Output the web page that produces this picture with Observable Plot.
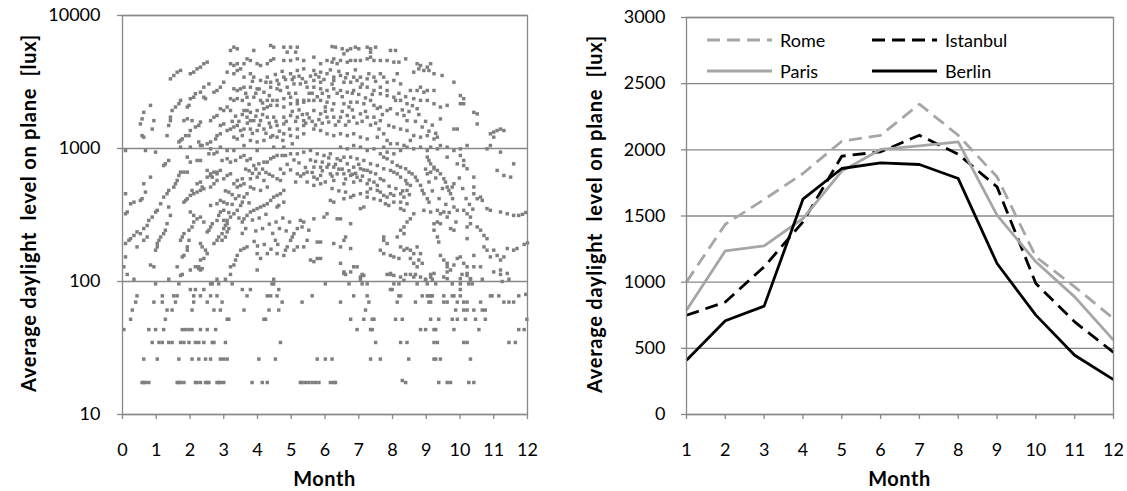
<!DOCTYPE html>
<html>
<head>
<meta charset="utf-8">
<script src="https://cdn.jsdelivr.net/npm/d3@7"></script>
<script src="https://cdn.jsdelivr.net/npm/@observablehq/plot@0.6"></script>
<style>
  body { margin: 0; background: #fff; }
  #wrap { position: relative; width: 1127px; height: 491px; overflow: hidden; font-family: Lato, "Open Sans", sans-serif; color: #000; }
  .panel { position: absolute; top: 0; }
  .ytitle { position: absolute; font-weight: bold; font-size: 20px; letter-spacing: 0.75px; white-space: pre; transform: translate(-50%, -50%) rotate(-90deg); line-height: 1; }
  .xtitle { position: absolute; font-weight: bold; font-size: 20px; letter-spacing: 0.5px; transform: translate(-50%, -50%); line-height: 1; }
  .leg { position: absolute; display: flex; align-items: center; font-size: 18px; line-height: 1; transform: translateY(-50%); }
  .leg svg { display: block; margin-right: 8px; }
</style>
</head>
<body>
<div id="wrap">
  <div id="leftPanel" class="panel" style="left:0px;"></div>
  <div id="rightPanel" class="panel" style="left:560px;"></div>
</div>
<script>
// ---------- Data ----------
const luxTicks = [10, 100, 1000, 10000];
const monthTicksLeft = [0,1,2,3,4,5,6,7,8,9,10,11,12];
const months = [1,2,3,4,5,6,7,8,9,10,11,12];
const levelTicks = [0,500,1000,1500,2000,2500,3000];

const cities = ["Rome", "Istanbul", "Paris", "Berlin"];
const rome     = [1002,1438,1625,1821,2065,2110,2345,2110,1796,1191,965,725];
const istanbul = [750,850,1116,1456,1952,1985,2110,1967,1720,990,700,469];
const paris    = [788,1237,1275,1481,1839,2003,2030,2060,1506,1154,889,562];
const berlin   = [410,708,819,1627,1859,1902,1889,1783,1141,751,448,264];

// hourly daylight readings on plane: [month, lux]
const dailyReadings = [
[3.30,5780],[3.40,5620],[3.89,5460],[4.39,5950],[4.48,5780],[4.78,5780],[4.98,5780],[5.18,5780],[5.13,5300],[4.88,5300],[3.20,5460],
[3.20,4340],[3.30,4210],[3.40,4340],[3.50,3970],[3.60,4340],[3.69,4720],[3.79,4590],[3.99,4340],[4.09,4210],[4.29,4340],[4.39,4590],[4.48,4720],[4.78,4590],[4.98,4590],[5.18,4720],[5.37,4590],
[2.51,4460],[2.41,4340],[2.31,4090],[2.21,3970],[2.11,3750],[2.01,3650],[1.72,3860],[1.62,3750],[1.52,3540],[1.42,3340],
[3.10,3750],[3.30,3650],[3.40,3860],[3.60,3440],[3.79,3650],[3.89,3440],[4.09,3250],[4.29,3440],[4.39,3150],[4.58,3250],[4.78,3440],[4.98,3650],[5.08,3440],[5.18,3860],[5.37,3970],
[2.56,3060],[2.41,2890],[2.31,2650],[2.16,2580],[2.11,2430],[2.01,2370],[3.00,3150],[2.90,2890],[2.80,2730],[2.71,2650],
[3.30,2810],[3.40,2730],[3.50,2810],[3.60,2890],[3.79,2890],[3.99,2810],[4.19,2650],[4.39,2890],[4.58,2810],[4.68,2730],[4.88,2890],[5.08,3060],[5.27,3060],[5.47,2890],
[3.20,2370],[3.30,2300],[3.40,2370],[3.55,2300],[3.69,2430],[3.89,2430],[4.09,2300],[4.29,2300],[4.58,2300],[4.78,2370],[4.98,2430],[5.18,2300],[5.37,2300],
[1.72,2300],[1.67,2170],[1.57,2050],[1.47,1930],[1.42,1720],[1.97,2110],[1.92,2050],[2.41,2430],[2.46,2370],
[0.83,2110],[0.63,1870],[0.58,1670],[0.53,1530],[0.88,1400],[0.93,1620],[0.63,1217],[0.58,1250],
[3.10,2050],[3.20,1930],[3.00,1930],[2.90,1990],[2.80,1770],[2.71,1720],[2.61,1620],
[3.60,1930],[3.69,1930],[3.79,1870],[3.99,1930],[4.19,1990],[4.29,2050],[4.39,2110],[4.58,2110],[4.78,2050],[4.98,2170],[5.18,2170],[5.37,2230],[5.52,2300],
[1.92,1670],[1.82,1620],[2.06,1620],
[3.69,1720],[3.79,1620],[3.89,1620],[4.09,1620],[4.29,1720],[4.48,1720],[4.78,1720],[4.98,1770],[5.18,1720],[5.37,1620],[5.47,1820],
[1.42,1620],[1.37,1490],
[2.31,1580],[2.26,1490],[2.16,1450],[2.01,1365],[1.97,1250],[1.87,1250],[1.77,1180],[1.72,1150],[1.67,1120],
[2.90,1490],[3.00,1530],[3.10,1365],[3.20,1400],[3.30,1450],[3.40,1490],[3.50,1365],[3.60,1400],[3.79,1400],[3.99,1365],[4.19,1400],[4.39,1450],[4.58,1490],[4.78,1530],[5.18,1400],[5.37,1490],
[1.32,1250],[2.90,1290],[2.80,1250],[2.76,1180],[2.61,1120],[2.51,1085],
[3.30,1217],[3.40,1180],[3.55,1250],[3.79,1150],[3.99,1120],[4.19,1150],[4.39,1217],[4.58,1217],[4.78,1290],[4.98,1250],[5.18,1217],[5.37,1290],
[2.26,1120],[2.31,1055],
[6.21,5840],[6.31,5780],[6.51,5620],[6.66,5460],[6.76,5620],[6.90,5780],[7.00,5620],[7.25,5780],[7.35,5620],[7.50,5780],[7.35,5300],[7.94,5460],[8.09,5460],[6.56,5150],
[5.67,4860],[5.87,4340],[6.06,4590],[6.21,4460],[6.26,4720],[6.36,4340],[6.46,4590],[6.66,4460],[6.76,4590],[6.90,4590],[7.05,4590],[7.25,4720],[7.35,4860],[7.45,4590],[7.64,4590],[7.84,4590],[8.04,4460],[8.19,4460],[8.39,4720],
[8.73,4340],[8.83,4210],[9.03,4090],[9.08,3860],[9.13,4340],[9.23,3650],[8.78,3970],[8.63,3750],[8.93,3860],
[5.67,3860],[5.87,3750],[6.06,3650],[6.26,3440],[6.46,3540],[6.66,3650],[6.85,3440],[7.05,3440],[7.25,3340],[7.45,3440],[7.64,3650],[7.74,3440],[7.84,3150],[8.04,3250],[8.14,3650],[8.24,3060],[5.67,3250],[5.87,3150],[6.26,3250],[6.56,3150],[6.76,3150],[6.95,3250],
[8.53,2730],[8.73,2730],[8.83,2890],[8.93,2650],[9.03,2730],[9.23,2730],[8.63,2370],[8.83,2300],[9.03,2300],[9.23,2170],[8.73,1990],[9.47,3540],[9.82,3150],[9.42,2050],
[5.67,2890],[5.87,2810],[6.06,2730],[6.26,2810],[6.46,2730],[6.66,2650],[6.85,2730],[7.05,2890],[7.25,2890],[7.45,2730],[7.64,2580],[7.84,2500],[8.04,2430],[8.24,2300],[8.43,2170],[7.64,2890],[7.84,2730],
[10.01,2500],[10.11,2370],[10.11,2170],[9.62,2110],[10.01,2170],[10.41,1870],[10.51,1820],
[5.67,2300],[5.87,2300],[6.06,2230],[6.26,2170],[6.56,2170],[6.76,2230],[6.95,2230],[7.15,2170],[7.35,2300],[7.45,2110],[7.64,2050],[7.84,1930],[7.94,1990],[8.14,1820],[8.34,1770],[8.43,1620],
[5.67,1930],[5.87,1820],[6.06,1720],[6.26,1720],[6.46,1720],[6.66,1770],[6.85,1720],[7.05,1820],[7.25,1720],[7.45,1720],[7.64,1620],[7.89,1490],[8.04,1450],[8.24,1400],[8.43,1365],[8.63,1250],
[9.42,1670],[9.92,1400],[9.82,1400],[10.51,1530],[10.90,1290],[11.00,1217],[11.10,1365],[11.20,1400],[11.30,1365],[11.00,1330],
[5.67,1400],[5.87,1365],[6.06,1290],[6.26,1250],[6.46,1290],[6.66,1250],[6.85,1290],[7.05,1217],[7.25,1180],[7.55,1217],[7.74,1290],[7.84,1150],[7.94,1085],[8.14,1085],[8.34,1055],[8.53,1150],[8.83,1217],[9.03,1250],[9.23,1180],[9.33,1217],
[0.09,966],[0.68,966],[0.98,939],[1.72,1023],[2.01,1023],[2.36,1053],[2.61,994],[2.90,1023],[3.10,966],[3.30,966],[3.60,1053],[3.99,966],[4.48,1023],[4.78,1023],[5.03,1084],
[1.27,767],[1.37,813],[1.22,745],[1.92,861],[2.01,790],[2.21,813],[2.31,813],[2.56,912],[2.71,912],[2.80,939],[2.95,813],[3.10,837],[3.20,790],[3.35,813],[3.50,861],[3.60,886],[3.69,813],[3.79,837],[3.89,745],[4.04,767],[4.19,790],[4.29,790],[4.39,837],[4.48,861],[4.58,886],[4.73,886],[4.83,886],[4.98,912],[5.18,912],[5.37,939],[5.18,645],[5.37,645],[5.47,664],
[1.72,664],[1.82,664],[1.92,664],[1.67,627],[1.62,575],[1.57,543],[1.52,513],[1.37,484],[1.32,457],[1.22,431],[1.13,384],[1.03,343],[0.98,333],[0.88,305],[0.78,288],[0.73,264],[0.63,250],[0.43,236],[0.34,222],[0.24,210],[0.19,204],
[2.51,684],[2.61,645],[2.71,664],[2.80,664],[2.90,684],[2.61,627],[2.51,609],[2.66,609],[2.80,645],[2.80,575],[2.71,543],[2.61,513],[2.41,498],[2.31,484],[2.21,470],[2.11,457],[2.01,444],[1.92,419],[1.87,407],[1.82,395],
[0.83,609],[0.63,543],[0.68,470],[0.58,419],[0.53,407],[0.34,395],[0.24,384],[0.14,333],[0.09,323],[0.09,457],
[3.20,645],[3.10,627],[3.00,592],[3.30,543],[3.40,575],[3.55,592],[3.60,543],[3.50,528],[3.40,513],[3.79,592],[3.99,609],[4.19,575],[4.29,513],[4.09,484],[3.89,498],[3.79,513],[3.69,457],[3.60,431],[3.55,395],[3.50,373],[3.40,343],[3.30,323],[3.20,305],[3.10,288],[3.05,264],[3.00,250],[2.95,229],[2.85,216],[2.80,204],[2.71,193],
[4.58,592],[4.68,575],[4.78,484],[4.68,457],[4.58,444],[4.48,431],[4.39,407],[4.29,384],[4.19,373],[4.09,363],[3.99,353],[3.89,343],[3.79,333],[3.69,314],[3.60,296],[3.55,280],
[4.78,395],[4.63,373],[4.58,363],
[2.31,559],[2.21,543],[2.36,513],[2.06,484],
[2.90,407],[3.00,395],[3.10,384],[2.80,384],[2.61,373],
[3.00,343],[2.90,333],[2.85,314],[2.80,288],[2.66,272],[2.61,257],[2.56,243],[2.51,236],[3.00,288],[3.10,272],[3.15,250],[3.10,236],[3.05,216],[2.95,204],
[2.01,333],[2.11,314],[2.21,296],[2.31,305],[2.41,280],[2.11,280],[2.06,257],[1.97,243],[1.82,229],[1.77,216],[1.72,204],[1.97,204],[1.92,182],[1.92,172],[1.82,157],[1.77,153],
[1.37,363],[1.42,314],[1.32,272],[1.27,243],[1.22,229],[1.13,216],[1.08,204],[1.03,193],[1.03,182],[0.98,172],
[0.73,216],[0.63,204],[0.53,229],[0.43,182],
[2.31,193],[2.36,182],[2.46,172],[2.51,162],[2.41,149],[2.31,145],[2.26,129],[2.36,125],
[5.27,288],[5.37,280],[5.32,257],[5.18,250],[5.08,229],[5.03,216],[4.98,204],[4.88,182],[4.83,172],[4.78,157],[5.08,172],[5.18,182],[5.37,182],[5.47,204],[5.52,243],
[3.69,182],[3.60,177],[3.50,172],[3.40,157],[3.35,145],[3.30,133],[3.20,129],[3.99,162],[4.09,149],[4.29,162],[4.53,204],[4.58,162],
[0.93,129],[0.83,133],[0.09,193],[0.09,153],[0.04,129],[1.62,129],[1.72,111],[2.16,129],[2.26,125],
[5.57,966],[5.77,912],[5.97,886],[6.16,912],[6.46,1023],[6.66,994],[6.85,1053],[7.05,1023],[7.25,966],[7.45,994],[7.74,1023],[7.84,939],[8.04,912],[8.24,966],[8.43,1023],[8.63,994],[8.83,1023],[9.03,966],[9.13,1023],[9.33,994],[9.42,1053],[9.62,1023],[9.82,966],[10.01,994],[10.21,1053],[10.80,994],[10.90,1053],[11.20,939],[10.01,886],[9.92,767],[10.11,813],[9.62,861],
[6.36,837],[6.46,813],[6.66,767],[6.85,724],[7.05,704],[7.25,684],[7.35,664],[7.50,645],[7.64,592],[7.74,575],
[6.56,861],[6.76,861],[6.95,837],[7.15,813],[7.35,767],[7.55,745],[7.74,704],[7.94,684],[8.04,664],[8.14,645],[8.24,609],[8.39,575],[8.43,543],[8.53,528],
[7.64,912],[7.74,861],[7.84,837],[7.99,790],[8.14,745],[8.24,724],[8.39,704],[8.49,664],[8.58,645],[8.68,609],[8.73,575],[8.83,528],[8.88,484],[8.93,457],[9.03,419],[9.08,395],
[5.67,724],[5.87,724],[6.06,724],[6.26,724],[5.67,609],[5.87,627],[6.16,645],[6.36,645],[6.56,645],[6.76,627],[6.95,609],[5.67,528],[5.87,543],[6.26,575],[6.56,543],[6.85,559],[7.05,575],[7.25,543],
[9.03,861],[9.08,813],[9.13,767],[9.23,724],[9.33,684],[9.42,645],[9.52,592],[9.57,559],[9.62,513],[9.67,484],[9.72,457],[9.77,513],[9.82,543],[9.03,645],[9.13,664],[9.23,704],
[10.11,745],[10.21,704],[10.41,609],[10.41,513],[10.41,457],[10.51,419],[10.61,431],[10.66,407],[11.10,684],[11.30,627],[11.50,609],[11.59,767],
[6.16,407],[6.26,395],[6.56,419],[6.76,431],[6.85,444],[7.05,457],[7.25,431],[7.45,419],[7.64,407],[7.79,384],[7.89,373],[8.04,395],[8.24,395],[8.43,384],[8.24,353],[8.34,343],[7.15,363],[7.05,353],
[7.55,484],[7.64,470],[7.74,444],[7.84,431],[7.94,457],[8.04,444],[8.24,457],[8.34,431],[8.43,484],[7.35,498],[7.25,470],[7.55,528],[7.45,559],
[8.93,343],[9.13,333],[9.33,343],[9.42,323],[9.52,333],[9.62,305],[9.82,363],[9.92,343],[10.11,343],[10.21,323],[10.31,305],[10.80,353],[10.90,343],[11.20,333],[11.40,323],[11.59,314],[11.74,314],
[5.67,296],[5.97,305],[6.06,323],[6.36,296],[6.46,296],[6.76,272],
[8.63,323],[8.53,296],[8.43,280],[8.34,257],[8.24,243],[8.34,229],[8.14,216],
[9.23,272],[9.33,280],[9.42,272],[9.23,243],[9.33,216],[9.37,198],[9.72,250],[9.82,243],[10.21,257],[10.31,272],[10.51,257],[10.61,243],[10.71,222],[10.80,210],[10.21,210],
[5.77,198],[5.87,198],[6.26,193],[6.46,182],[6.56,204],[6.61,216],[6.76,177],[5.57,145],[5.77,149],[5.87,149],[5.67,141],
[7.74,216],[7.74,204],[7.84,193],[7.64,172],[7.74,162],[7.94,157],[8.04,153],[8.19,149],[8.24,182],[8.34,172],[8.43,177],[8.53,172],[8.63,162],[8.73,182],[8.83,162],[8.78,145],[8.63,137],[8.73,129],[8.88,137],[8.53,149],
[9.42,157],[9.52,145],[9.62,137],[9.62,129],[9.72,122],[9.82,133],[9.92,149],[10.01,153],[10.11,137],[10.21,129],[10.21,115],[10.41,129],[10.41,157],[10.71,182],[10.80,172],[10.90,153],[11.00,172],[11.10,157],[11.20,145],[11.30,153],[11.40,177],[11.59,172],[11.69,177],[11.20,122],[11.40,115],[10.61,129],
[6.46,137],[6.85,129],[6.95,129],[7.05,108],[7.15,111],[6.76,118],[6.56,115],[7.94,115],[8.04,111],[8.24,108],[8.34,102],[8.63,108],[8.83,108],[8.98,102],[9.13,108],[9.23,115],[9.52,108],[9.62,105],[10.01,105],[10.21,111],[10.31,105],
[0.14,113],[0.34,104],[1.37,104],[1.77,113],[2.01,122],[2.31,122],[2.80,104],[3.05,104],[3.20,113],[3.99,122],[4.48,104],[4.43,96],[4.48,96],[4.63,87],[0.98,96],[1.67,96],[2.01,87],[2.16,87],[2.31,78],[2.11,78],[2.41,87],[2.61,96],[2.66,96],[2.85,96],[3.25,96],[3.55,87],[3.79,87],[3.69,78],
[0.43,78],[0.39,70],[0.29,61],[0.24,52],[0.04,43.5],[0.93,70],[1.18,78],[1.18,70],[1.32,61],[1.47,61],[1.52,78],[1.57,70],[1.62,78],[2.06,61],[2.11,70],[2.51,70],[2.61,78],[2.71,61],[2.90,61],[2.80,78],[2.95,70],[3.10,52],[3.15,52],[3.60,61],[4.29,78],[4.39,78],[4.58,78],[4.34,61],[4.63,61],[4.73,70],[4.19,52],[4.24,52],[5.32,70],[1.27,52],
[1.22,43.5],[0.78,43.5],[0.98,43.5],[1.77,43.5],[1.87,43.5],[1.97,43.5],[2.06,43.5],[2.31,43.5],[2.51,43.5],[2.76,43.5],
[0.88,34.8],[1.08,34.8],[1.18,34.8],[1.37,34.8],[1.47,34.8],[1.72,34.8],[1.82,34.8],[1.97,34.8],[2.16,34.8],[2.26,34.8],[2.41,34.8],[2.66,34.8],[2.71,34.8],[3.05,34.8],[4.68,34.8],
[0.63,26.1],[1.03,26.1],[1.67,26.1],[2.06,26.1],[2.26,26.1],[2.46,26.1],[2.61,26.1],[2.90,26.1],[3.00,26.1],[3.10,26.1],[4.04,26.1],[4.53,26.1],
[0.58,17.4],[0.63,17.4],[0.68,17.4],[0.78,17.4],[1.62,17.4],[1.67,17.4],[1.72,17.4],[1.82,17.4],[2.16,17.4],[2.21,17.4],[2.31,17.4],[2.46,17.4],[2.51,17.4],[2.56,17.4],[2.80,17.4],[2.85,17.4],[2.90,17.4],[3.00,17.4],[3.84,17.4],[4.14,17.4],[4.29,17.4],[5.27,17.4],[5.32,17.4],[5.42,17.4],[5.52,17.4],
[6.56,118],[6.61,113],[7.10,113],[7.05,104],[7.84,113],[7.94,113],[8.39,113],[8.53,113],[8.68,113],[8.98,104],[9.13,113],[9.18,104],[9.62,118],[10.06,113],[10.31,104],[10.66,104],[11.00,118],[11.20,113],[11.25,100],[11.45,104],
[6.01,96],[6.71,96],[7.10,96],[7.25,96],[8.04,96],[8.19,96],[8.73,96],[9.03,96],[9.28,96],[9.77,96],[10.01,96],[10.01,87],[10.26,96],[10.36,96],
[5.62,78],[6.85,78],[7.25,78],[7.30,70],[7.94,87],[7.99,87],[8.19,78],[8.24,78],[8.14,70],[8.68,70],[8.88,78],[9.03,78],[9.13,78],[9.08,78],[9.18,78],[9.08,70],[9.13,70],[9.52,78],[9.52,70],[9.62,70],[9.77,78],[9.82,78],[10.01,78],[9.92,70],[10.11,70],[10.21,70],[10.61,70],[10.90,78],[10.95,78],[11.15,78],[11.30,70],[11.45,70],[11.59,70],[11.74,78],[6.46,70],
[7.20,61],[9.87,61],[10.11,61],[10.21,61],[10.41,61],[10.66,61],[10.75,61],
[6.76,52],[7.15,52],[7.40,52],[7.45,52],[8.09,52],[8.29,52],[8.83,43.5],[8.98,43.5],[9.13,52],[9.37,52],[9.77,52],[9.92,52],[10.16,52],[10.46,52],[10.75,52],
[6.95,43.5],[7.35,43.5],[7.40,43.5],[9.23,43.5],[9.28,43.5],[9.82,43.5],[10.56,43.5],[11.74,43.5],
[7.50,34.8],[8.24,34.8],[8.43,34.8],[9.23,34.8],[9.33,34.8],[10.11,34.8],[10.21,34.8],[11.45,34.8],[11.64,34.8],
[5.77,26.1],[6.01,26.1],[6.21,26.1],[7.35,26.1],[7.64,26.1],[8.48,26.1],[9.23,26.1],[9.28,26.1],[9.42,26.1],[10.31,26.1],
[5.62,17.4],[5.72,17.4],[5.82,17.4],[6.16,17.4],[6.26,17.4],[6.31,17.4],[8.29,18],[8.39,17.4],[9.37,17.4],[9.62,17.4],[9.72,17.4],[10.26,17.4],[10.41,17.4],
[11.85,320],[11.95,330],[11.90,190],[12.00,195],[11.95,80],[11.90,43.5],[11.98,52],
[4.53,3600],[4.63,3050],[4.73,3800],[4.83,3300],[4.93,2600],[5.03,3300],[5.13,2600],[5.23,3500],[5.33,3350],[5.43,3150],[5.53,2600],
[5.57,3500],[5.62,2600],[5.72,3600],[5.77,2450],[5.82,3450],[5.92,2600],[5.97,3300],[6.01,2050],[6.11,2450],[6.16,3900],[6.21,3050],[6.36,2600],[6.41,3800],[6.51,2450],[6.61,3400],[6.71,2050],[6.81,2600],[6.90,3900],[7.00,2550],[7.10,3050],[7.20,2400],[7.30,3650],[7.40,2550],[7.50,3200],[7.55,2000],
[5.03,1900],[5.13,1600],[5.23,1950],[5.33,1800],[5.43,1550],[5.53,1700],[5.62,1600],[5.72,1500],[5.82,1650],[5.92,1550],[6.01,1900],[6.11,1580],[6.21,1950],[6.31,1500],[6.41,1600],[6.51,1900],[6.61,1500],[6.71,1600],[6.81,1950],[6.95,1550],[7.10,1600],[7.20,1900],[7.35,1500],[7.50,1550],[7.60,1400],[7.70,1800],
[3.65,2600],[3.75,2150],[3.85,3200],[3.95,2600],[4.05,2800],[4.15,2200],[4.25,3150],[4.35,2500],[4.45,2300],[3.95,1750],[4.05,1500],[4.15,1800],[4.25,1300],[4.35,1550],[4.45,1250],[4.55,1600],[4.65,1350],[4.75,1150],[4.85,1600],[4.95,1400],[3.70,1550],[3.85,1300],[3.45,1600],[3.55,1800],[3.35,1750],[3.25,1600],
[8.09,2300],[8.19,2600],[8.29,1950],[8.39,2450],[8.49,1900],[8.59,2100],[8.68,1600],[8.78,1800],[8.88,1450],[8.98,1600],[9.08,1350],[9.18,1500],[9.28,1300],
[6.11,850],[6.31,760],[6.51,700],[6.71,680],[6.91,650],[7.11,620],[7.31,580],[5.72,800],[5.92,790],[6.21,500],[6.41,480],[6.61,470],[7.90,520],[8.10,500],[8.30,480],[8.50,450],
[3.05,480],[3.15,470],[3.25,450],[3.45,440],[3.65,700],[3.75,680],[3.85,650],[3.95,700],[4.05,650],[4.15,700],[4.25,660],[4.35,640],[4.45,620],
[4.68,700],[4.78,650],[4.88,760],[4.98,690],[5.08,820],[5.13,560],[5.23,780],[5.28,620],[5.42,720],[5.47,560],[5.57,820],[5.62,660],[5.77,590],[5.92,680],[6.01,560],[6.11,760],[6.21,620],[6.41,700],[6.61,590],[6.81,640],[7.00,760],[7.15,690],
[3.15,330],[3.25,380],[3.35,420],[3.45,300],[3.55,230],[3.65,250],[3.75,390],[3.85,290],[3.95,240],[4.05,300],[4.15,250],[4.25,320],[4.35,270],[4.45,230],[4.55,280],[4.65,250],[4.75,300],[4.85,240],[4.95,280],[3.90,200],[4.00,185],[4.20,190],[4.40,175],[4.60,190],
[8.98,700],[9.08,560],[9.18,480],[9.28,600],[9.38,420],[9.48,500],[9.58,380],[9.68,330],[9.78,420],[9.88,280],[9.98,600],[10.08,500],[10.18,420],[10.28,380],[10.38,350]
];

// ---------- Styling (kept separate from data) ----------
const GRID = "#888888";
const TXT = "#000000";
const seriesStyle = {
  Rome:     {stroke: "#a6a6a6", dash: "13,7"},
  Istanbul: {stroke: "#000000", dash: "13,7"},
  Paris:    {stroke: "#a6a6a6", dash: null},
  Berlin:   {stroke: "#000000", dash: null}
};
const seriesValues = {Rome: rome, Istanbul: istanbul, Paris: paris, Berlin: berlin};
const fmt = d3.format("d");
const plotStyle = {fontFamily: "Lato, 'Open Sans', sans-serif", fontSize: "18px", color: TXT, background: "transparent", overflow: "visible"};

// ---------- Left chart: scatter on log scale ----------
const left = Plot.plot({
  width: 560, height: 491,
  marginLeft: 122, marginRight: 33, marginTop: 15, marginBottom: 77,
  style: plotStyle,
  x: {domain: [0, 12], label: null},
  y: {type: "log", domain: [10, 10000], label: null},
  marks: [
    Plot.gridY(luxTicks, {stroke: GRID, strokeOpacity: 1, strokeWidth: 1.3}),
    Plot.dot(dailyReadings, {x: d => d[0], y: d => d[1], symbol: "square", r: 1.95, fill: "#7f7f7f", stroke: "none"}),
    Plot.frame({stroke: GRID, strokeWidth: 1.3}),
    Plot.axisX({ticks: monthTicksLeft, tickFormat: fmt, tickSize: 5, tickPadding: 24, stroke: GRID, strokeWidth: 1.3, fill: TXT, label: null}),
    Plot.axisY({ticks: luxTicks, tickFormat: fmt, tickSize: 5, tickPadding: 17, stroke: GRID, strokeWidth: 1.3, fill: TXT, label: null})
  ]
});
document.getElementById("leftPanel").appendChild(left);

// ---------- Right chart: monthly averages ----------
const rows = cities.flatMap(c => months.map((m, i) => ({city: c, month: m, lux: seriesValues[c][i]})));
const lineMarks = cities.map(c => Plot.line(rows.filter(r => r.city === c), {
  x: "month", y: "lux",
  stroke: seriesStyle[c].stroke, strokeWidth: 2.8,
  strokeDasharray: seriesStyle[c].dash, strokeLinejoin: "round", strokeLinecap: "butt"
}));
const right = Plot.plot({
  width: 567, height: 491,
  marginLeft: 126, marginRight: 14, marginTop: 17, marginBottom: 77,
  style: plotStyle,
  x: {domain: [1, 12], label: null},
  y: {domain: [0, 3000], label: null},
  marks: [
    Plot.gridY(levelTicks, {stroke: GRID, strokeOpacity: 1, strokeWidth: 1.3}),
    ...lineMarks,
    Plot.frame({stroke: GRID, strokeWidth: 1.3}),
    Plot.axisX({ticks: months, tickFormat: fmt, tickSize: 5, tickPadding: 24, stroke: GRID, strokeWidth: 1.3, fill: TXT, label: null}),
    Plot.axisY({ticks: levelTicks, tickFormat: fmt, tickSize: 5, tickPadding: 16, stroke: GRID, strokeWidth: 1.3, fill: TXT, label: null})
  ]
});
document.getElementById("rightPanel").appendChild(right);

// ---------- Titles ----------
const wrap = document.getElementById("wrap");
function addText(cls, text, x, y) {
  const el = document.createElement("div");
  el.className = cls;
  el.textContent = text;
  el.style.left = x + "px";
  el.style.top = y + "px";
  wrap.appendChild(el);
}
const yTitle = "Average daylight  level on plane  [lux]";
addText("ytitle", yTitle, 28, 213);
addText("ytitle", yTitle, 594, 214);
addText("xtitle", "Month", 324.5, 478);
addText("xtitle", "Month", 899.5, 478);

// ---------- Legend (inside right chart, 2 x 2) ----------
const legendPos = {Rome: [707, 39.5], Istanbul: [872, 39.5], Paris: [707, 71], Berlin: [872, 71]};
cities.forEach(c => {
  const item = document.createElement("div");
  item.className = "leg";
  item.style.left = legendPos[c][0] + "px";
  item.style.top = legendPos[c][1] + "px";
  const s = seriesStyle[c];
  item.innerHTML = `<svg width="65" height="6"><line x1="0" y1="3" x2="65" y2="3" stroke="${s.stroke}" stroke-width="2.8"${s.dash ? ` stroke-dasharray="${s.dash}"` : ""}/></svg><span>${c}</span>`;
  wrap.appendChild(item);
});
</script>
</body>
</html>
